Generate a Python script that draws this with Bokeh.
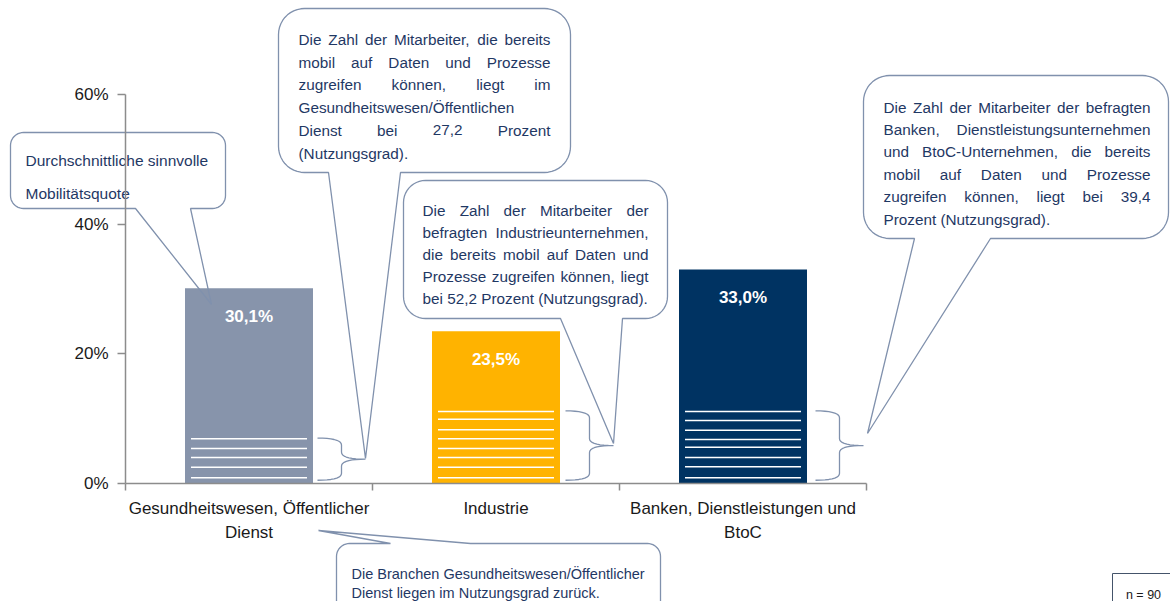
import numpy as np
from bokeh.plotting import figure
from bokeh.models import LinearAxis, FixedTicker, Range1d, ColumnDataSource
from bokeh.core.properties import value
from bokeh.embed import file_html
from bokeh.resources import INLINE

# ---------------- data ----------------
categories = ["Gesundheitswesen, Öffentlicher\nDienst", "Industrie", "Banken, Dienstleistungen und\nBtoC"]
mobility_quote = [30.1, 23.5, 33.0]          # Durchschnittliche sinnvolle Mobilitätsquote in %
usage_levels_gesundheit = [6.9, 5.4, 4.0, 2.5, 0.9]
usage_levels_industrie = [11.1, 9.9, 8.3, 6.9, 5.4, 4.0, 2.5, 0.9]
usage_levels_banken = [11.1, 9.7, 8.2, 6.8, 5.6, 4.0, 2.6, 0.9]
bar_colors = ["#8794AB", "#FFB300", "#003362"]
y_ticks = [0, 20, 40, 60]
sample_size = 90

callout_avg = ["Durchschnittliche sinnvolle", "Mobilitätsquote"]
callout_gesundheit = ["Die Zahl der Mitarbeiter, die bereits",
                      "mobil auf Daten und Prozesse",
                      "zugreifen können, liegt im",
                      "Gesundheitswesen/Öffentlichen",
                      "Dienst bei 27,2 Prozent",
                      "(Nutzungsgrad)."]
callout_industrie = ["Die Zahl der Mitarbeiter der",
                     "befragten Industrieunternehmen,",
                     "die bereits mobil auf Daten und",
                     "Prozesse zugreifen können, liegt",
                     "bei 52,2 Prozent (Nutzungsgrad)."]
callout_banken = ["Die Zahl der Mitarbeiter der befragten",
                  "Banken, Dienstleistungsunternehmen",
                  "und BtoC-Unternehmen, die bereits",
                  "mobil auf Daten und Prozesse",
                  "zugreifen können, liegt bei 39,4",
                  "Prozent (Nutzungsgrad)."]
callout_bottom = ["Die Branchen Gesundheitswesen/Öffentlicher",
                  "Dienst liegen im Nutzungsgrad zurück."]

usage_levels = [usage_levels_gesundheit, usage_levels_industrie, usage_levels_banken]

# ---------------- layout / style ----------------
W, H = 1170, 601
PX_X0, PX_PER_CAT = 125.0, 247.0
PX_Y0, PX_PER_PCT = 483.0, 389.0 / 60.0


def X(px):
    return (px - PX_X0) / PX_PER_CAT


def Y(py):
    return (PX_Y0 - py) / PX_PER_PCT


SANS = "Liberation Sans"
TXT = "#1F3864"
EDGE = "#8091AD"
AXIS = "#8C8C8C"

p = figure(width=W, height=H, x_range=Range1d(X(0), X(W)), y_range=Range1d(Y(H), Y(0)),
           x_axis_type=None, y_axis_type=None, output_backend="svg", toolbar_location=None,
           min_border=0, outline_line_color=None, background_fill_color="white",
           border_fill_color="white")

# axes
yaxis = LinearAxis(ticker=FixedTicker(ticks=y_ticks), fixed_location=0, bounds=(0, 60),
                   major_label_overrides={t: f"{t}%" for t in y_ticks})
yaxis.axis_line_color = AXIS
yaxis.axis_line_width = 1.5
yaxis.major_tick_line_color = AXIS
yaxis.major_tick_line_width = 1.5
yaxis.major_tick_out = 8
yaxis.major_tick_in = 0
yaxis.minor_tick_out = 0
yaxis.minor_tick_in = 0
yaxis.major_label_standoff = 9
yaxis.major_label_text_font = SANS
yaxis.major_label_text_font_size = "17px"
yaxis.major_label_text_color = "#1a1a1a"
p.add_layout(yaxis, "left")

n_cat = len(categories)
bounds_ticks = list(range(n_cat + 1))
xaxis = LinearAxis(ticker=FixedTicker(ticks=bounds_ticks), fixed_location=0, bounds=(0, n_cat),
                   major_label_overrides={t: "" for t in bounds_ticks})
xaxis.axis_line_color = AXIS
xaxis.axis_line_width = 1.5
xaxis.major_tick_line_color = AXIS
xaxis.major_tick_line_width = 1.5
xaxis.major_tick_out = 7
xaxis.major_tick_in = 0
xaxis.minor_tick_out = 0
xaxis.minor_tick_in = 0
p.add_layout(xaxis, "below")

centers = [i + 0.5 for i in range(n_cat)]
xlab = LinearAxis(ticker=FixedTicker(ticks=centers), fixed_location=0,
                  major_label_overrides={c: lab for c, lab in zip(centers, categories)})
xlab.axis_line_color = None
xlab.major_tick_line_color = None
xlab.major_tick_out = 0
xlab.major_tick_in = 0
xlab.minor_tick_out = 0
xlab.minor_tick_in = 0
xlab.major_label_standoff = 15
xlab.major_label_text_font = SANS
xlab.major_label_text_font_size = "17px"
xlab.major_label_text_color = "#1a1a1a"
xlab.major_label_text_line_height = 1.3
p.add_layout(xlab, "below")

# bars
BAR_W = 128.0 / PX_PER_CAT
src = ColumnDataSource(dict(x=centers, top=mobility_quote, color=bar_colors,
                            label=[f"{v:.1f}".replace(".", ",") + "%" for v in mobility_quote],
                            ly=[v - 28.0 / PX_PER_PCT for v in mobility_quote]))
p.vbar(x="x", top="top", width=BAR_W, fill_color="color", line_color=None, source=src)
p.text(x="x", y="ly", text="label", source=src, text_align="center", text_baseline="alphabetic",
       text_font=value(SANS), text_font_style="bold", text_font_size="17px", text_color="white")

# usage stripes
sx0, sx1, sy = [], [], []
half = 58.0 / PX_PER_CAT
for c, levels in zip(centers, usage_levels):
    for lv in levels:
        sx0.append(c - half)
        sx1.append(c + half)
        sy.append(lv)
p.segment(x0=sx0, y0=sy, x1=sx1, y1=sy, line_color="white", line_width=1.5)


# braces
def qbez(a, b, c, n=10):
    t = np.linspace(0, 1, n)
    xs = (1 - t) ** 2 * a[0] + 2 * (1 - t) * t * b[0] + t ** 2 * c[0]
    ys = (1 - t) ** 2 * a[1] + 2 * (1 - t) * t * b[1] + t ** 2 * c[1]
    return list(xs), list(ys)


def brace(xl, yt, yb, arm=24.0, r=7.0):
    xv, xp = xl + arm, xl + 2 * arm
    ym = (yt + yb) / 2
    xs, ys = [], []
    for seg in [qbez((xl, yt), (xv, yt), (xv, yt + r)),
                qbez((xv, ym - r), (xv, ym), (xp, ym)),
                qbez((xp, ym), (xv, ym), (xv, ym + r)),
                qbez((xv, yb - r), (xv, yb), (xl, yb))]:
        xs += seg[0]
        ys += seg[1]
    p.line([X(v) for v in xs], [Y(v) for v in ys], line_color=EDGE, line_width=1.3)


brace_left_px = [317, 565, 815]
for xl, levels in zip(brace_left_px, usage_levels):
    yt = PX_Y0 - (max(levels) + 0.1) * PX_PER_PCT
    yb = PX_Y0 - 0.5 * PX_PER_PCT
    brace(xl, yt, yb)


# callouts
def arc(cx, cy, r, a0, a1, n=12):
    a = np.radians(np.linspace(a0, a1, n))
    return list(cx + r * np.cos(a)), list(cy + r * np.sin(a))


def callout(x0, y0, x1, y1, r, side, b1, b2, tip):
    xs, ys = [x0 + r], [y0]
    if side == "top":
        xs += [b1, tip[0], b2]
        ys += [y0, tip[1], y0]
    for cx, cy, a0, a1 in [(x1 - r, y0 + r, -90, 0), (x1 - r, y1 - r, 0, 90)]:
        ax, ay = arc(cx, cy, r, a0, a1)
        xs += ax
        ys += ay
    if side == "bottom":
        xs += [b2, tip[0], b1]
        ys += [y1, tip[1], y1]
    for cx, cy, a0, a1 in [(x0 + r, y1 - r, 90, 180), (x0 + r, y0 + r, 180, 270)]:
        ax, ay = arc(cx, cy, r, a0, a1)
        xs += ax
        ys += ay
    xs.append(xs[0])
    ys.append(ys[0])
    p.line([X(v) for v in xs], [Y(v) for v in ys], line_color=EDGE, line_width=1.3)


AW = {' ': 278, '!': 278, '(': 333, ')': 333, ',': 278, '-': 333, '.': 278, '/': 278, '%': 889, '=': 584,
      'A': 667, 'B': 667, 'C': 722, 'D': 722, 'E': 667, 'F': 611, 'G': 778, 'H': 722, 'I': 278, 'J': 500,
      'K': 667, 'L': 556, 'M': 833, 'N': 722, 'O': 778, 'P': 667, 'Q': 778, 'R': 722, 'S': 667, 'T': 611,
      'U': 722, 'V': 667, 'W': 944, 'X': 667, 'Y': 667, 'Z': 611, 'Ö': 778, 'Ä': 667, 'Ü': 722,
      'a': 556, 'b': 556, 'c': 500, 'd': 556, 'e': 556, 'f': 278, 'g': 556, 'h': 556, 'i': 222, 'j': 222,
      'k': 500, 'l': 222, 'm': 833, 'n': 556, 'o': 556, 'p': 556, 'q': 556, 'r': 333, 's': 500, 't': 278,
      'u': 556, 'v': 500, 'w': 722, 'x': 500, 'y': 500, 'z': 500, 'ä': 556, 'ö': 556, 'ü': 556, 'ß': 611}


def tw(s, size):
    return sum(AW.get(ch, 556) for ch in s) / 1000.0 * size


def text_block(lines, justify, xl, xr, base0, step, size, font=SANS):
    lx, ly, lt, rx, ry, rt = [], [], [], [], [], []
    for i, line in enumerate(lines):
        yb = base0 + i * step
        words = line.split(" ")
        if justify[i] and len(words) > 1:
            widths = [tw(w, size) for w in words]
            gap = (xr - xl - sum(widths)) / (len(words) - 1)
            x = xl
            for k, w in enumerate(words[:-1]):
                lx.append(X(x)); ly.append(Y(yb)); lt.append(w)
                x += widths[k] + gap
            rx.append(X(xr)); ry.append(Y(yb)); rt.append(words[-1])
        else:
            lx.append(X(xl)); ly.append(Y(yb)); lt.append(line)
    kw = dict(text_baseline="alphabetic", text_font=value(font), text_font_size=f"{size}px", text_color=TXT)
    p.text(lx, ly, text=lt, text_align="left", **kw)
    if rt:
        p.text(rx, ry, text=rt, text_align="right", **kw)


# 1: average quote
callout(10, 132, 225, 208, 13, "bottom", 135, 190, (211, 304))
text_block(callout_avg, [False, False], 25, 210, 160, 33, 15.5)
# 2: Gesundheitswesen
callout(278, 8, 570, 172, 26, "bottom", 328, 400, (365, 458))
text_block(callout_gesundheit, [True, True, True, False, True, False], 298, 550, 39, 22.7, 15.3)
# 3: Industrie
callout(403, 180, 667, 318, 22, "bottom", 560, 622, (613, 443))
text_block(callout_industrie, [True, True, True, True, False], 422, 648, 210, 22.1, 15.3)
# 4: Banken
callout(863, 75, 1168, 238, 26, "bottom", 914, 990, (867, 433))
text_block(callout_banken, [True, True, True, True, True, False], 883, 1150, 106.5, 22.4, 15.3)
# 5: bottom note
callout(336, 543, 660, 625, 13, "top", 390, 470, (318, 530))
text_block(callout_bottom, [False, False], 351, 645, 573, 19.5, 14.5)

# sample size box
p.line([X(v) for v in [1112, 1112, 1175]], [Y(v) for v in [605, 573, 573]], line_color="#44546A", line_width=1)
p.text([X(1143)], [Y(594)], text=[f"n = {sample_size}"], text_align="center", text_baseline="alphabetic",
       text_font=value(SANS), text_font_size="12.5px", text_color="#1a1a1a")

open("out.html", "w").write(file_html(p, INLINE, title="Mobilitätsquote"))
